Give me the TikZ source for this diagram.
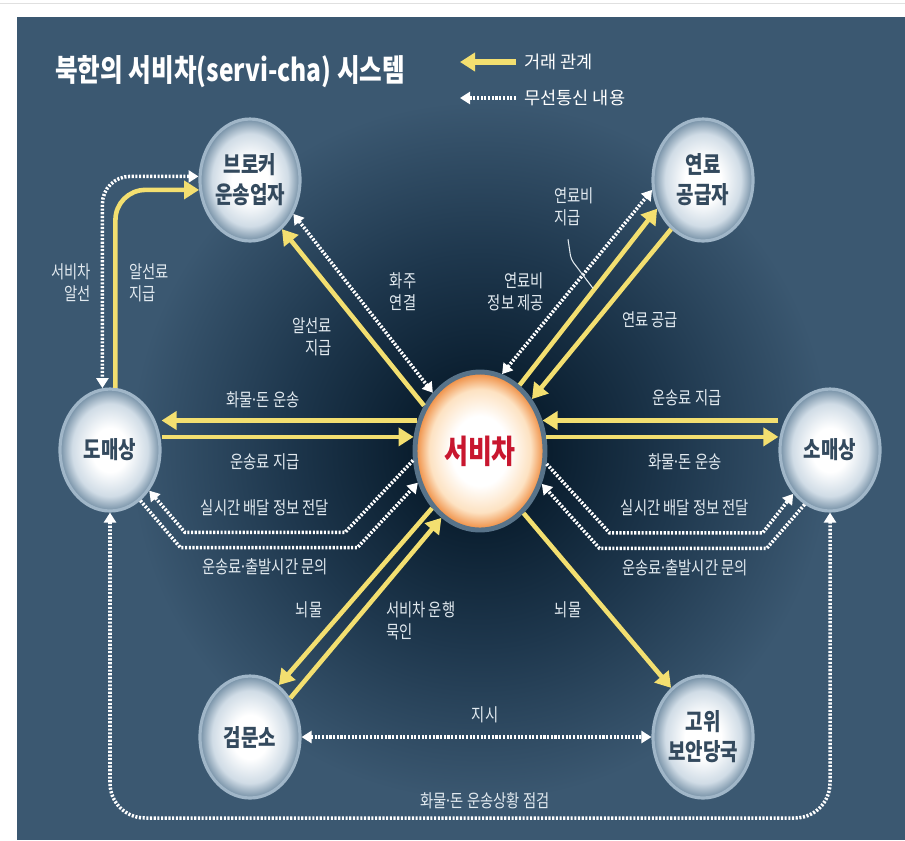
\documentclass[tikz,border=0pt]{standalone}
\usepackage{fontspec}
\newfontfamily\kr{Noto Sans CJK KR}[FakeStretch=0.8]
\newfontfamily\krw{Noto Sans CJK KR}
\usetikzlibrary{arrows.meta,shapes.geometric}

\definecolor{panelc}{RGB}{59,88,113}
\definecolor{glowc}{RGB}{10,30,47}
\definecolor{glowmid}{RGB}{30,55,77}
\definecolor{ylwc}{RGB}{243,223,112}
\definecolor{lblc}{RGB}{226,234,240}
\definecolor{nodetxt}{RGB}{52,74,94}
\definecolor{ringc}{RGB}{160,182,200}
\definecolor{bubmid}{RGB}{208,220,230}
\definecolor{bubedge}{RGB}{116,143,165}
\definecolor{hubring}{RGB}{88,115,137}
\definecolor{hubred}{RGB}{200,23,47}
\definecolor{hubmid}{RGB}{253,226,194}
\definecolor{hubedge}{RGB}{238,136,58}

\pgfdeclareradialshading{bubble}{\pgfpoint{0bp}{0bp}}{color(0bp)=(white); color(9bp)=(white); color(19bp)=(bubmid); color(25bp)=(bubedge); color(50bp)=(bubedge)}
\pgfdeclareradialshading{hubglow}{\pgfpoint{0bp}{0bp}}{color(0bp)=(white); color(11bp)=(white); color(19.5bp)=(hubmid); color(25bp)=(hubedge); color(50bp)=(hubedge)}
\pgfdeclareradialshading{glow}{\pgfpoint{0bp}{0bp}}{color(0bp)=(glowc); color(5bp)=(glowc); color(14bp)=(glowmid); color(25bp)=(panelc); color(50bp)=(panelc)}

\tikzset{yel/.tip={Triangle[length=0.3cm,width=0.36cm]},
  rad/.tip={Triangle[length=0.2cm,width=0.24cm]}}
\newcommand{\mdot}{\kern-0.12em·\kern-0.12em}

\begin{document}
\begin{tikzpicture}[x=0.02cm, y=-0.02cm,
  bubble/.style={ellipse, minimum width=2cm, minimum height=2.44cm, inner sep=0pt,
    draw=ringc, line width=1.8pt, shading=bubble, text=nodetxt, align=center,
    font=\kr\bfseries\fontsize{13.5}{17}\selectfont},
  hub/.style={ellipse, minimum width=2.6cm, minimum height=3.16cm, inner sep=0pt,
    draw=hubring, line width=2.8pt, shading=hubglow, text=hubred,
    font=\kr\bfseries\fontsize{18.5}{20}\selectfont},
  ylw/.style={draw=ylwc, line width=2.6pt, -yel},
  radio/.style={draw=white, line width=2pt, dash pattern=on 1.2pt off 0.9pt},
  lbl/.style={text=lblc, inner sep=1pt, font=\kr\fontsize{10.2}{12.6}\selectfont},
  leader/.style={draw=lblc, line width=0.6pt}]
  \useasboundingbox (0,0) rectangle (905,840);
  \fill[white] (0,0) rectangle (905,840);
  \draw[black!12, line width=0.5pt] (0,3) -- (905,3);
  \fill[panelc] (17,17) rectangle (905,840);
  \shade[shading=glow] (480,451) circle (7cm);

  % title and legend
  \node[anchor=west, text=white, inner sep=0pt, font=\kr\bfseries\fontsize{17.5}{20}\selectfont] (title) at (55,72) {북한의 서비차(servi-cha) 시스템};
  \node[anchor=west, text=white, inner sep=0pt, font=\krw\fontsize{10}{12}\selectfont] (lgdeal) at (524,62) {거래 관계};
  \node[anchor=west, text=white, inner sep=0pt, font=\krw\fontsize{10}{12}\selectfont] (lgradio) at (524,98) {무선통신 내용};
  \draw[ylw, line width=3.4pt] ([xshift=-0.16cm]lgdeal.west) -- ++(-56,0);
  \draw[radio, -rad] ([xshift=-0.16cm]lgradio.west) -- ++(-56,0);

  % nodes
  \node[hub] (seobi) at (480,451) {서비차};
  \node[bubble] (broker) at (250,180) {브로커\\운송업자};
  \node[bubble] (fuel) at (703,180) {연료\\공급자};
  \node[bubble] (whole) at (110,450) {도매상};
  \node[bubble] (retail) at (830,450) {소매상};
  \node[bubble] (check) at (250,737) {검문소};
  \node[bubble] (secur) at (703,737) {고위\\보안당국};

  % broker
  \draw[ylw, rounded corners=0.6cm] (whole.85) |- (broker.191);
  \draw[radio, rad-rad, rounded corners=0.55cm] (broker.176) -| (whole.97);
  \draw[ylw] (seobi.141) -- (broker.303);
  \draw[radio, rad-rad] (broker.322) -- (seobi.129);
  \node[lbl, anchor=east, align=right] (lbmatch) at (93,283) {서비차\\알선};
  \node[lbl, anchor=west, align=left] (lbfeew) at (127,283) {알선료\\지급};
  \node[lbl, anchor=east, align=right] (lbfeex) at (334,337) {알선료\\지급};
  \node[lbl, align=center] (lbowner) at (403,292) {화주\\연결};

  % fuel
  \draw[radio, rad-rad] (seobi.74) -- (fuel.191);
  \draw[ylw] (seobi.59) -- (fuel.212);
  \draw[ylw] (fuel.237) -- (seobi.45);
  \node[lbl, anchor=west, align=left] (lbfpay) at (552,207) {연료비\\지급};
  \node[lbl, anchor=east, align=right] (lbfinfo) at (546,292) {연료비\\정보 제공};
  \node[lbl] (lbfsup) at (650,320) {연료 공급};
  \draw[leader, rounded corners=0.08cm] ([xshift=0.32cm,yshift=-0.22cm]lbfpay.south west) -- ++(3,20) -- ++(22,29);

  % wholesaler and retailer
  \draw[ylw] (seobi.154) -- (seobi.154 -| whole.east);
  \draw[ylw] (seobi.168 -| whole.east) -- (seobi.168);
  \draw[ylw] (seobi.26 -| retail.west) -- (seobi.26);
  \draw[ylw] (seobi.12) -- (seobi.12 -| retail.west);
  \draw[radio, -rad] (seobi.188) -- ++(-68,72) -- ++(-160,0) -- (whole.314);
  \draw[radio, -rad] (whole.301) -- ++(40,47) -- ++(177,0) -- (seobi.207);
  \draw[radio, -rad] (seobi.349) -- ++(63,69) -- ++(153,0) -- (retail.230);
  \draw[radio, -rad] (retail.245) -- ++(-38,44) -- ++(-167,0) -- (seobi.332);
  \node[lbl] (lbwgoods) at (263,400) {화물\mdot 돈 운송};
  \node[lbl] (lbwfee) at (265,462) {운송료 지급};
  \node[lbl] (lbwlive) at (265,508) {실시간 배달 정보 전달};
  \node[lbl] (lbwask) at (265,567) {운송료\mdot 출발시간 문의};
  \node[lbl] (lbrfee) at (687,398) {운송료 지급};
  \node[lbl] (lbrgoods) at (685,462) {화물\mdot 돈 운송};
  \node[lbl] (lbrlive) at (685,508) {실시간 배달 정보 전달};
  \node[lbl] (lbrask) at (685,568) {운송료\mdot 출발시간 문의};

  % checkpoint and security
  \draw[ylw] (seobi.230) -- (check.61);
  \draw[ylw] (check.44) -- (seobi.240);
  \draw[ylw] (seobi.305) -- (secur.123);
  \draw[radio, rad-rad] (check.east) -- (secur.west);
  \coordinate (loopbot) at (480,818);
  \draw[radio, rad-rad, rounded corners=0.7cm] (whole.south) |- (loopbot) -| (retail.south);
  \node[lbl] (lbbribe) at (309,610) {뇌물};
  \node[lbl, anchor=west, align=left] (lbpass) at (384,621) {서비차 운행\\묵인};
  \node[lbl] (lbbribes) at (568,610) {뇌물};
  \node[lbl] (lborder) at (485,715) {지시};
  \node[lbl] (lbcheck) at (485,801) {화물\mdot 돈 운송상황 점검};
\end{tikzpicture}
\end{document}
